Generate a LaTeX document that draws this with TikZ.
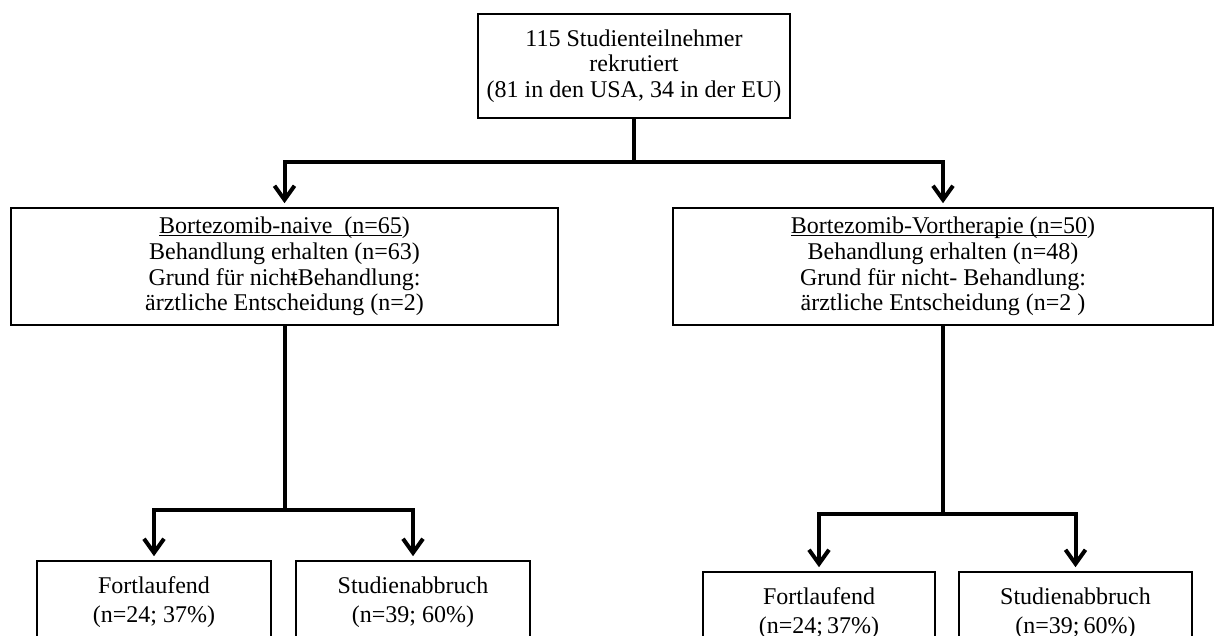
\documentclass[tikz,border=0pt]{standalone}
\usepackage{fontspec}
\setmainfont{Liberation Serif}
\usetikzlibrary{arrows.meta, positioning}
\newcommand\strichunter[1]{\setbox0\hbox{#1}\rlap{\rule[-1.3pt]{\wd0}{0.55pt}}\box0}

\begin{document}
\begin{tikzpicture}[x=0.5pt, y=-0.5pt, font=\fontsize{12}{12.8}\selectfont,
    box/.style={draw, line width=0.8pt, align=center, inner sep=0pt},
    endbox/.style={box, font=\fontsize{12}{14.5}\selectfont, minimum height=41pt},
    link/.style={line width=2pt},
    arrow/.style={line width=2pt, -{Straight Barb[length=7pt,width=10pt]}, shorten >=2pt}]
    \useasboundingbox (0,0) rectangle (1215,636);
    % Kopf
    \node[box, minimum width=156pt, minimum height=52pt] (top) at (634,66)
        {115 Studienteilnehmer\\rekrutiert\\(81 in den USA, 34 in der EU)};
    % Gruppen
    \node[box, minimum width=273.5pt, minimum height=58.5pt] (naive) at (284.5,266.5)
        {\strichunter{Bortezomib-naive\ \ (n=65})\\Behandlung erhalten (n=63)\\Grund für nicht\llap{-}Behandlung:\\ärztliche Entscheidung (n=2)};
    \node[box, minimum width=270pt, minimum height=58.5pt] (vor) at (943,266.5)
        {\strichunter{Bortezomib-Vortherapie (n=50})\\Behandlung erhalten (n=48)\\Grund für nicht- Behandlung:\\ärztliche Entscheidung (n=2 )};
    % Verlauf
    \node[endbox, minimum width=117pt] (fortL) at (154,602) {Fortlaufend\\(n=24; 37\%)};
    \node[endbox, minimum width=117pt] (abbrL) at (413,602) {Studienabbruch\\(n=39; 60\%)};
    \node[endbox, minimum width=116pt] (fortR) at (819,613) {Fortlaufend\\(n=24;\,37\%)};
    \node[endbox, minimum width=116.5pt] (abbrR) at (1075.5,613) {Studienabbruch\\(n=39;\,60\%)};
    % Verbindungen
    \draw[link] (top.south) -- ++(0,43) coordinate (split);
    \draw[arrow] (split) -| (naive.north);
    \draw[arrow] (split) -| (vor.north);
    \draw[link] (naive.south) -- ++(0,184) coordinate (lsplit);
    \draw[arrow] (lsplit) -| (fortL.north);
    \draw[arrow] (lsplit) -| (abbrL.north);
    \draw[link] (vor.south) -- ++(0,188) coordinate (rsplit);
    \draw[arrow] (rsplit) -| (fortR.north);
    \draw[arrow] (rsplit) -| (abbrR.north);
\end{tikzpicture}
\end{document}
